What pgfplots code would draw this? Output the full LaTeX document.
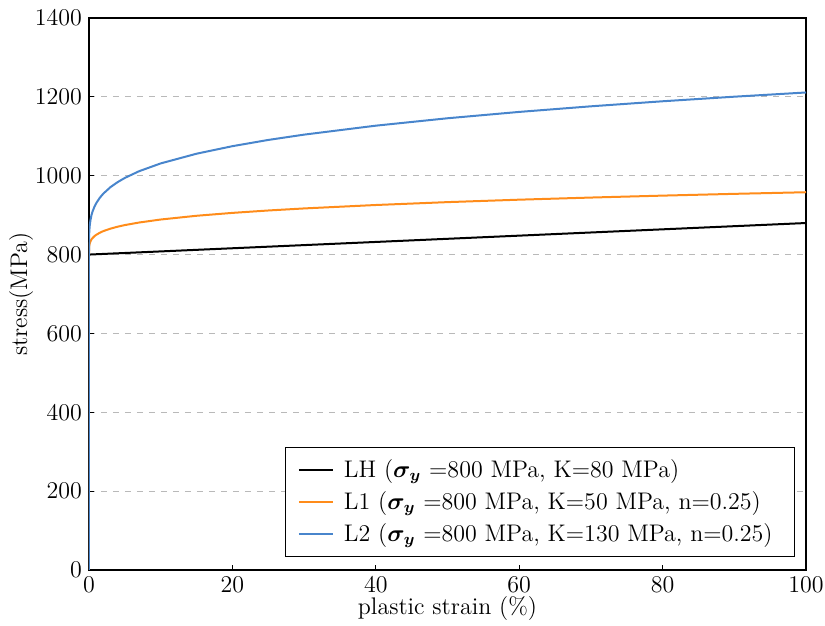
\documentclass[border=0pt]{standalone}
\usepackage{bm}
\usepackage{pgfplots}
\pgfplotsset{compat=1.18}
\definecolor{cblue}{RGB}{72,133,204}
\definecolor{corange}{RGB}{255,140,26}
\begin{document}
\begin{tikzpicture}
\begin{axis}[
  scale only axis,
  width=358.5pt, height=276pt,
  xmin=0, xmax=100, ymin=0, ymax=1400,
  xtick={0,20,40,60,80,100},
  ytick={0,200,400,600,800,1000,1200,1400},
  /pgf/number format/1000 sep={},
  tick align=inside,
  xtick pos=bottom, ytick pos=left,
  major tick length=2.5pt,
  tick style={black, line width=0.5pt},
  axis line style={line width=0.6pt},
  ymajorgrids,
  grid style={dashed, gray!55, line width=0.4pt},
  xlabel={plastic strain (\%)},
  ylabel={stress(MPa)},
  xlabel style={yshift=5pt},
  ylabel style={yshift=-6pt},
  label style={font=\fontsize{12}{14}\selectfont},
  tick label style={font=\fontsize{12}{14}\selectfont},
  legend cell align=left,
  legend style={at={(0.985,0.0236)}, anchor=south east, draw=black, line width=0.6pt,
    font=\fontsize{12}{14}\selectfont, row sep=1.5pt, inner xsep=6pt, inner ysep=4pt,
    nodes={inner xsep=5pt}},
  legend image code/.code={\draw[#1, line width=1.1pt] (0pt,0pt) -- (17pt,0pt);},
]
\addplot[black, line width=1pt] coordinates {(0,0) (0,800) (100,880)};
\addlegendentry{LH ($\bm{\sigma_y}$ =800 MPa, K=80 MPa)}
\addplot[corange, line width=1pt] coordinates {
(0,0) (0,800) (0.0005,807.5) (0.002,810.6) (0.01,815.8) (0.03,820.8) (0.05,823.6) (0.1,828.1) (0.2,833.4) (0.35,838.5) (0.5,842.0) (0.75,846.5) (1,850.0)
(1.5,855.3) (2,859.5) (3,865.8) (4,870.7) (5,874.8) (7,881.3) (10,888.9) (15,898.4) (20,905.7) (25,911.8) (30,917.0)
(40,925.7) (50,933.0) (60,939.2) (70,944.6) (80,949.5) (90,954.0) (100,958.1)};
\addlegendentry{L1 ($\bm{\sigma_y}$ =800 MPa, K=50 MPa, n=0.25)}
\addplot[cblue, line width=1pt] coordinates {
(0,0) (0,800) (0.0005,819.4) (0.002,827.5) (0.01,841.1) (0.03,854.1) (0.05,861.5) (0.1,873.1) (0.2,886.9) (0.35,900.2) (0.5,909.3) (0.75,921.0) (1,930.0)
(1.5,943.9) (2,954.6) (3,971.1) (4,983.8) (5,994.4) (7,1011.5) (10,1031.2) (15,1055.8) (20,1074.9) (25,1090.7) (30,1104.2)
(40,1126.9) (50,1145.7) (60,1161.8) (70,1176.0) (80,1188.8) (90,1200.4) (100,1211.1)};
\addlegendentry{L2 ($\bm{\sigma_y}$ =800 MPa, K=130 MPa, n=0.25)}
\end{axis}
\pgfresetboundingbox
\useasboundingbox ([shift={(-44.5pt,-28pt)}]current axis.south west) rectangle ([shift={(9.5pt,9pt)}]current axis.north east);
\end{tikzpicture}
\end{document}
